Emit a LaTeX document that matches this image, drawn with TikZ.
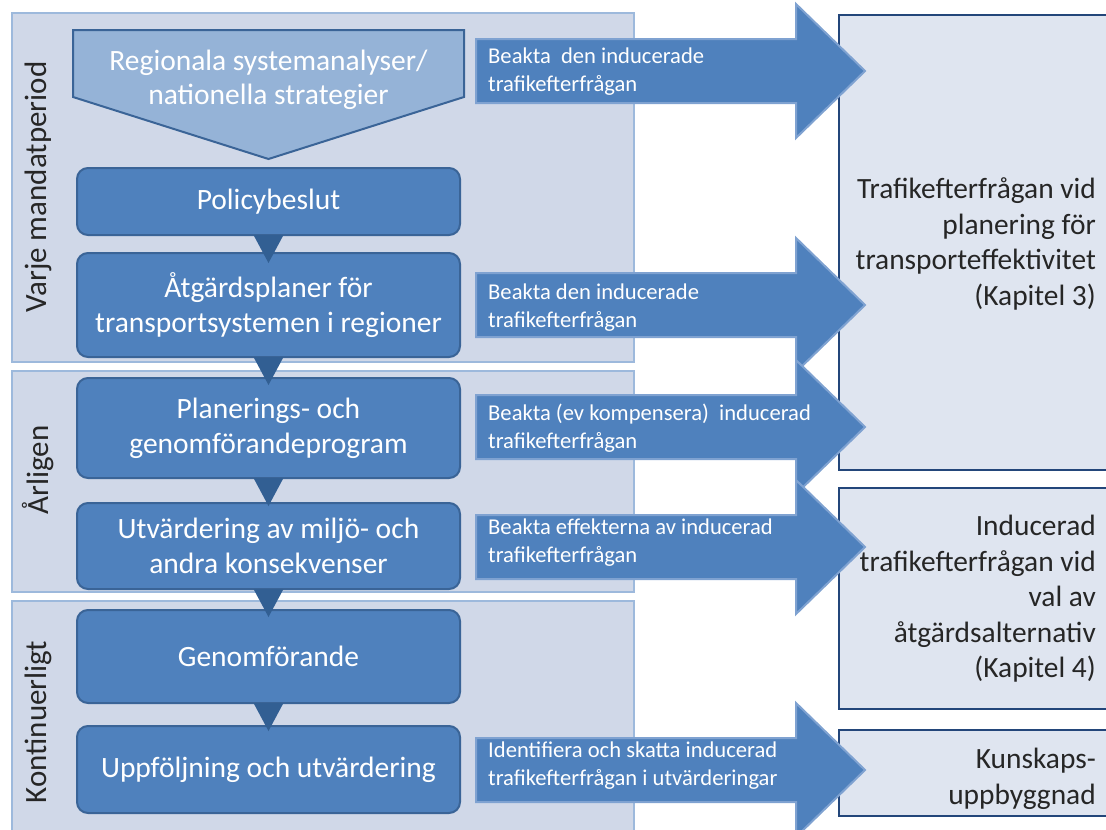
\documentclass[tikz,border=0pt]{standalone}
\usepackage{fontspec}
\setmainfont{Carlito}
\usetikzlibrary{calc}
\definecolor{bandfill}{HTML}{D0D8E8}
\definecolor{bandline}{HTML}{9DB9DC}
\definecolor{boxfill}{HTML}{4F81BD}
\definecolor{boxline}{HTML}{3A6497}
\definecolor{pentfill}{HTML}{95B3D7}
\definecolor{trifill}{HTML}{325F93}
\definecolor{arrline}{HTML}{7FA2D1}
\definecolor{rbfill}{HTML}{DFE5F0}
\definecolor{rbline}{HTML}{23467A}
\definecolor{txtdark}{HTML}{262626}
\newcommand\myarrow[1]{\draw[arrowshape] (476,{#1-32}) -- (796,{#1-32}) -- (796,{#1-67}) -- (865,#1) -- (796,{#1+67}) -- (796,{#1+32}) -- (476,{#1+32}) -- cycle;}
\newcommand\mytri[1]{\fill[trifill] ($(#1.south)+(-15,-1)$) -- ($(#1.south)+(15,-1)$) -- ($(#1.south)+(0,27)$) -- cycle;}
\begin{document}
\begin{tikzpicture}[x=1pt,y=-1pt,
  band/.style={fill=bandfill,draw=bandline,line width=2pt},
  procbox/.style={rounded corners=11pt,fill=boxfill,draw=boxline,line width=2pt,text=white,
    font=\fontsize{29.5}{35}\selectfont,align=center,minimum width=383pt,inner sep=0pt},
  pentshape/.style={fill=pentfill,draw=boxline,line width=2pt},
  pentext/.style={text=white,font=\fontsize{29.5}{34}\selectfont,align=center,inner sep=0pt},
  vlabel/.style={text=txtdark,font=\fontsize{31}{36}\selectfont,rotate=90,inner sep=0pt},
  arrowshape/.style={fill=boxfill,draw=arrline,line width=2pt,line join=miter},
  arrtext/.style={text=white,font=\fontsize{22.6}{28}\selectfont,align=left,anchor=west,inner sep=0pt},
  rboxshape/.style={fill=rbfill,draw=rbline,line width=2pt},
  rtext/.style={text=txtdark,font=\fontsize{29.4}{35.5}\selectfont,align=right,anchor=east,inner sep=0pt}
]
\useasboundingbox (0,0) rectangle (1106,830);
\clip (0,0) rectangle (1106,830);
% bands
\draw[band] (12,13) rectangle (634,362);
\draw[band] (12,371) rectangle (634,592);
\draw[band] (12,601) rectangle (634,845);
\node[vlabel] (l1) at (38,187) {Varje mandatperiod};
\node[vlabel] (l2) at (38,470) {Årligen};
\node[vlabel] (l3) at (38,722) {Kontinuerligt};
% right boxes
\draw[rboxshape] (839,15) rectangle (1120,470);
\draw[rboxshape] (839,488) rectangle (1120,709);
\draw[rboxshape] (839,730) rectangle (1120,816);
\node[rtext] (ra) at (1096,244) {Trafikefterfrågan vid\\planering för\\transporteffektivitet\\(Kapitel 3)};
\node[rtext] (rb) at (1096,599) {Inducerad\\trafikefterfrågan vid\\val av\\åtgärdsalternativ\\(Kapitel 4)};
\node[rtext] (rc) at (1096,779) {Kunskaps-\\uppbyggnad};
% arrows
\myarrow{71}
\myarrow{305}
\myarrow{427}
\myarrow{547}
\myarrow{770}
\node[arrtext] (a1) at (488,72) {Beakta\ \ den inducerade\\trafikefterfrågan};
\node[arrtext] (a2) at (488,308) {Beakta den inducerade\\trafikefterfrågan};
\node[arrtext] (a3) at (488,428) {Beakta (ev kompensera)\ \ inducerad\\trafikefterfrågan};
\node[arrtext] (a4) at (488,543) {Beakta effekterna av inducerad\\trafikefterfrågan};
\node[arrtext] (a5) at (488,766) {Identifiera och skatta inducerad\\trafikefterfrågan i utvärderingar};
% pentagon
\draw[pentshape] (73,30) -- (464,30) -- (464,97) -- (268.5,159) -- (73,97) -- cycle;
\node[pentext] (reg) at (268.5,80) {Regionala systemanalyser/\\nationella strategier};
% process boxes
\node[procbox,minimum height=67pt] (pol) at (268.5,201.5) {Policybeslut};
\node[procbox,minimum height=104pt] (atg) at (268.5,305) {Åtgärdsplaner för\\transportsystemen i regioner};
\node[procbox,minimum height=100pt] (pla) at (268.5,428) {Planerings- och\\genomförandeprogram};
\node[procbox,minimum height=86pt] (utv) at (268.5,546) {Utvärdering av miljö- och\\andra konsekvenser};
\node[procbox,minimum height=93pt] (gen) at (268.5,656.5) {Genomförande};
\node[procbox,minimum height=87pt] (upp) at (268.5,769.5) {Uppföljning och utvärdering};
% connectors
\mytri{pol}
\mytri{atg}
\mytri{pla}
\mytri{utv}
\mytri{gen}
\end{tikzpicture}
\end{document}
